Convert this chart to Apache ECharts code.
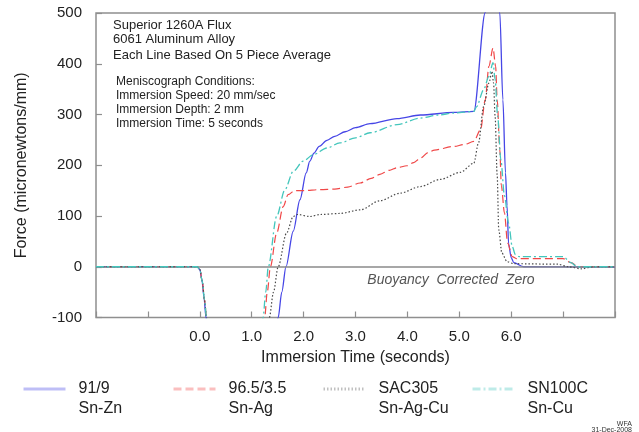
<!DOCTYPE html>
<html>
<head>
<meta charset="utf-8">
<title>Meniscograph wetting force</title>
<script src="https://cdn.jsdelivr.net/npm/echarts@6/dist/echarts.min.js"></script>
<style>
  html, body { margin: 0; padding: 0; background: #ffffff; }
  #chart { width: 639px; height: 432px; }
</style>
</head>
<body>
<div id="chart"></div>
<script>
// Wetting force curves (micronewtons/mm) versus immersion time (seconds)

// 91/9 Sn-Zn
const snZnTime  = [-2, -0.05, 0.0, 0.04, 0.08, 0.12, 0.16, 1.45, 1.51, 1.58, 1.66, 1.80, 1.93, 2.05, 2.12, 2.20, 2.30, 2.45, 2.60, 2.80, 3.00, 3.28, 3.80, 4.25, 4.89, 5.28, 5.50, 5.64, 5.78, 5.84, 5.89, 5.92, 5.95, 6.00, 6.05, 6.24, 8.0];
const snZnForce = [0, 0, -5, -25, -60, -100, -140, -140, -100, -50, 0, 70, 132, 185, 208, 224, 237, 249, 257, 266, 274, 282, 292, 299, 304, 306, 501, 620, 501, 329, 185, 120, 45, 18, 8, 0, -1];

// 96.5/3.5 Sn-Ag
const snAgTime  = [-2, -0.05, 0.0, 0.05, 0.09, 0.13, 0.17, 1.21, 1.25, 1.30, 1.36, 1.48, 1.61, 1.70, 1.83, 2.00, 2.32, 2.60, 2.85, 3.09, 3.30, 3.47, 3.65, 3.80, 3.99, 4.12, 4.25, 4.40, 4.52, 4.89, 5.10, 5.28, 5.41, 5.50, 5.57, 5.65, 5.70, 5.73, 5.78, 5.81, 5.87, 5.93, 6.02, 6.10, 7.00, 7.15, 7.30, 8.0];
const snAgForce = [0, 0, -5, -30, -65, -100, -140, -140, -100, -50, 0, 66, 119, 142, 150, 150, 152, 153, 157, 165, 174, 182, 190, 195, 199, 205, 214, 225, 230, 237, 241, 247, 270, 329, 395, 431, 395, 329, 231, 160, 106, 47, 20, 16, 16, 8, 0, 0];

// SAC305 Sn-Ag-Cu
const sacTime  = [-2, -0.05, 0.0, 0.05, 0.09, 0.13, 0.17, 1.27, 1.34, 1.42, 1.51, 1.67, 1.80, 1.88, 2.12, 2.32, 2.70, 3.09, 3.47, 3.86, 4.25, 4.63, 5.02, 5.28, 5.37, 5.47, 5.57, 5.63, 5.66, 5.69, 5.73, 5.76, 5.82, 5.92, 6.05, 6.90, 7.10, 7.35, 7.60, 8.0];
const sacForce = [0, 0, -5, -30, -65, -100, -140, -140, -100, -50, 0, 66, 99, 103, 99, 103, 105, 112, 130, 145, 158, 172, 186, 204, 244, 316, 362, 385, 362, 296, 180, 73, 27, 10, 6, 5, 0, -4, 0, 0];

// SN100C Sn-Cu
const snCuTime  = [-2, -0.05, 0.0, 0.05, 0.09, 0.13, 0.17, 1.18, 1.22, 1.27, 1.32, 1.48, 1.64, 1.80, 1.99, 2.19, 2.45, 2.70, 3.00, 3.28, 3.80, 4.25, 4.60, 4.89, 5.28, 5.33, 5.47, 5.57, 5.65, 5.69, 5.74, 5.80, 5.87, 5.95, 6.02, 6.08, 6.15, 7.00, 7.15, 7.27, 8.0];
const snCuForce = [0, 0, -5, -30, -65, -100, -140, -140, -100, -50, 0, 99, 152, 188, 208, 221, 234, 244, 254, 264, 280, 293, 299, 303, 306, 315, 349, 375, 402, 369, 296, 211, 140, 86, 40, 24, 20, 20, 8, 0, 0];

const seriesNames = ['91/9', '96.5/3.5', 'SAC305', 'SN100C'];
const alloyNames  = ['Sn-Zn', 'Sn-Ag', 'Sn-Ag-Cu', 'Sn-Cu'];

const xTickLabels = ['0.0', '1.0', '2.0', '3.0', '4.0', '5.0', '6.0'];

const noteLines = ['Superior 1260A Flux', '6061 Aluminum Alloy', 'Each Line Based On 5 Piece Average'];
const conditionLines = ['Meniscograph Conditions:', 'Immersion Speed: 20 mm/sec', 'Immersion Depth: 2 mm', 'Immersion Time: 5 seconds'];

const FONT = "'Liberation Sans', Arial, sans-serif";

function pairs(xs, ys) {
  return xs.map((x, i) => [x, ys[i]]);
}

const curveData = [
  pairs(snZnTime, snZnForce),
  pairs(snAgTime, snAgForce),
  pairs(sacTime, sacForce),
  pairs(snCuTime, snCuForce)
];

const curveStyles = [
  { color: '#4646e6', width: 1.3, type: 'solid' },
  { color: '#f04848', width: 1.2, type: [8, 4] },
  { color: '#4a4a4a', width: 1.2, type: [1.5, 2] },
  { color: '#44c6bc', width: 1.3, type: [8, 3, 2, 3] }
];

const series = curveData.map((d, i) => ({
  name: seriesNames[i],
  type: 'line',
  data: d,
  symbol: 'none',
  showSymbol: false,
  smooth: 0.3,
  smoothMonotone: 'x',
  clip: true,
  z: 3 + i,
  lineStyle: curveStyles[i],
  itemStyle: { color: curveStyles[i].color }
}));

// gray reference line at zero force
series[0].markLine = {
  silent: true,
  symbol: 'none',
  animation: false,
  label: { show: false },
  lineStyle: { color: '#8a8a8a', width: 1.5, type: 'solid' },
  data: [{ yAxis: 0 }]
};

const legendLefts = [22, 172, 322, 471];
const legends = seriesNames.map((n, i) => ({
  data: [n],
  left: legendLefts[i],
  top: 359,
  padding: 0,
  orient: 'horizontal',
  itemWidth: 42,
  itemHeight: 10,
  selectedMode: false,
  formatter: name => '\n' + name + '\n' + alloyNames[seriesNames.indexOf(name)],
  textStyle: { fontFamily: FONT, fontSize: 16, lineHeight: 20, color: '#222', padding: [0, 0, 0, 8] },
  lineStyle: { width: 3, opacity: 0.35 },
  itemStyle: { opacity: 0 }
}));

const graphics = [];
noteLines.forEach((t, i) => {
  graphics.push({
    type: 'text', x: 113, y: [25, 39.5, 55][i],
    style: { text: t, font: '13px ' + FONT, fill: '#222', textAlign: 'left', textVerticalAlign: 'middle' }
  });
});
conditionLines.forEach((t, i) => {
  graphics.push({
    type: 'text', x: 116, y: [81.5, 96, 109.5, 123.5][i],
    style: { text: t, font: '12px ' + FONT, fill: '#222', textAlign: 'left', textVerticalAlign: 'middle' }
  });
});
graphics.push({
  type: 'text', x: 451, y: 280,
  style: { text: 'Buoyancy  Corrected  Zero', font: 'italic 14px ' + FONT, fill: '#555', textAlign: 'center', textVerticalAlign: 'middle' }
});
graphics.push({
  type: 'text', x: 632, y: 424,
  style: { text: 'WFA', font: '7px ' + FONT, fill: '#333', textAlign: 'right', textVerticalAlign: 'middle' }
});
graphics.push({
  type: 'text', x: 632, y: 430,
  style: { text: '31-Dec-2008', font: '7px ' + FONT, fill: '#333', textAlign: 'right', textVerticalAlign: 'middle' }
});

const chart = echarts.init(document.getElementById('chart'), null, { renderer: 'canvas' });
chart.setOption({
  animation: false,
  backgroundColor: '#ffffff',
  grid: {
    left: 96, top: 13, width: 519, height: 304.5,
    show: true, borderColor: '#8f8f8f', borderWidth: 1.5, backgroundColor: 'transparent'
  },
  xAxis: {
    type: 'value', min: -2, max: 8, interval: 1,
    name: 'Immersion Time (seconds)', nameLocation: 'middle', nameGap: 31,
    nameTextStyle: { fontFamily: FONT, fontSize: 16, color: '#222' },
    axisLine: { show: false, onZero: false },
    axisTick: { show: true, inside: true, length: 6, lineStyle: { color: '#8f8f8f', width: 1.2 } },
    splitLine: { show: false },
    axisLabel: {
      fontFamily: FONT, fontSize: 15, color: '#222', margin: 12,
      formatter: v => {
        const k = Math.round(v);
        return (k >= 0 && k < xTickLabels.length) ? xTickLabels[k] : '';
      }
    }
  },
  yAxis: {
    type: 'value', min: -100, max: 500, interval: 100,
    name: 'Force (micronewtons/mm)', nameLocation: 'middle', nameGap: 66, nameRotate: 90,
    nameTextStyle: { fontFamily: FONT, fontSize: 16, color: '#222' },
    axisLine: { show: false, onZero: false },
    axisTick: { show: true, inside: true, length: 6, lineStyle: { color: '#8f8f8f', width: 1.2 } },
    splitLine: { show: false },
    axisLabel: { fontFamily: FONT, fontSize: 15, color: '#222', margin: 14 }
  },
  legend: legends,
  graphic: graphics,
  series: series
});
</script>
</body>
</html>
